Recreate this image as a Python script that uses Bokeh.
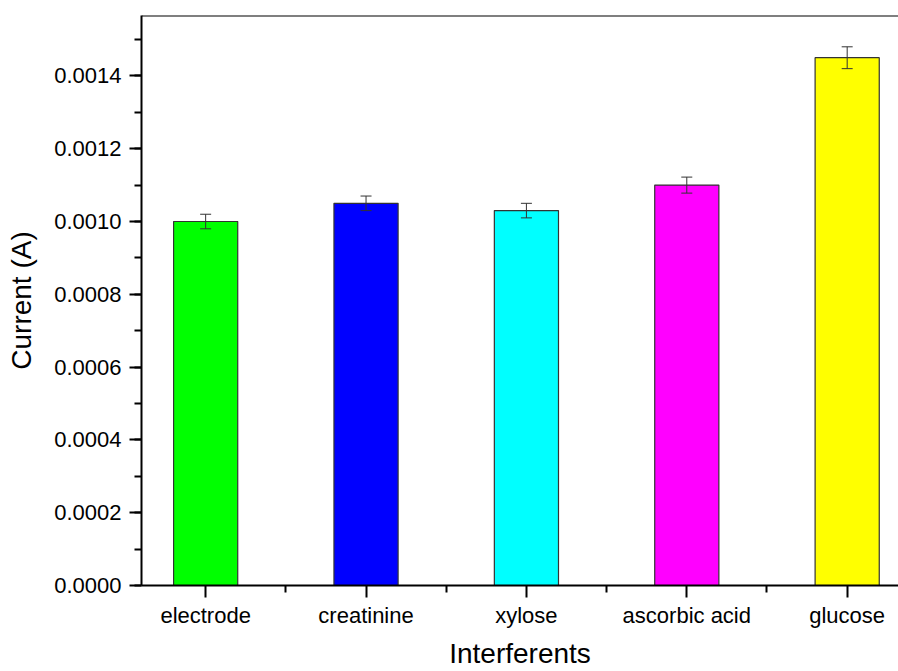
from bokeh.plotting import figure
from bokeh.models import (ColumnDataSource, FixedTicker, Range1d, Span, Whisker,
                          TeeHead, PrintfTickFormatter)
from bokeh.embed import file_html
from bokeh.resources import INLINE

# Interferent study: response current of the sensor to each species
categories = ["electrode", "creatinine", "xylose", "ascorbic acid", "glucose"]
current = [0.00100, 0.00105, 0.00103, 0.00110, 0.00145]
error = [0.00002, 0.00002, 0.00002, 0.000022, 0.00003]
colors = ["#00ff00", "#0000ff", "#00ffff", "#ff00ff", "#ffff00"]
y_ticks = [0.0, 0.0002, 0.0004, 0.0006, 0.0008, 0.0010, 0.0012, 0.0014]

positions = list(range(1, len(categories) + 1))
y_max = 0.001566

source = ColumnDataSource(dict(
    x=positions,
    top=current,
    upper=[c + e for c, e in zip(current, error)],
    lower=[c - e for c, e in zip(current, error)],
    color=colors,
))

FONT = "Liberation Sans"

p = figure(width=898, height=671, output_backend="svg", toolbar_location=None,
           x_range=Range1d(0.6, 5.32), y_range=Range1d(0, y_max),
           min_border_left=141, min_border_right=0, min_border_top=15,
           min_border_bottom=86)
p.outline_line_color = None
p.xgrid.visible = False
p.ygrid.visible = False
p.background_fill_color = "white"
p.border_fill_color = "white"

p.vbar(x="x", top="top", bottom=0, width=0.4, fill_color="color",
       line_color="#333333", line_width=1.2, source=source)

err = Whisker(base="x", upper="upper", lower="lower", source=source,
              level="overlay", line_color="#333333", line_width=1,
              upper_head=TeeHead(size=11, line_color="#333333", line_width=1),
              lower_head=TeeHead(size=11, line_color="#333333", line_width=1))
p.add_layout(err)

# top frame edge
p.add_layout(Span(location=y_max, dimension="width", line_color="black",
                  line_width=2))

# x axis
xa = p.xaxis[0]
xa.ticker = FixedTicker(ticks=positions,
                        minor_ticks=[i + 0.5 for i in positions[:-1]])
xa.major_label_overrides = {i: c for i, c in zip(positions, categories)}
xa.axis_label = "Interferents"

# y axis
ya = p.yaxis[0]
ya.ticker = FixedTicker(ticks=y_ticks,
                        minor_ticks=[i * 0.0001 for i in range(16)])
ya.formatter = PrintfTickFormatter(format="%.4f")
ya.axis_label = "Current (A)"

for ax in (xa, ya):
    ax.axis_line_color = "black"
    ax.axis_line_width = 2
    ax.major_tick_line_color = "black"
    ax.major_tick_line_width = 2
    ax.minor_tick_line_color = "black"
    ax.minor_tick_line_width = 2
    ax.major_tick_in = 0
    ax.major_tick_out = 12
    ax.minor_tick_in = 0
    ax.minor_tick_out = 7
    ax.major_label_text_font = FONT
    ax.major_label_text_font_size = "22px"
    ax.major_label_text_color = "black"
    ax.major_label_standoff = 8
    ax.axis_label_text_font = FONT
    ax.axis_label_text_font_size = "28px"
    ax.axis_label_text_font_style = "normal"
    ax.axis_label_text_color = "black"

xa.major_label_standoff = 5
xa.axis_label_standoff = 7
ya.axis_label_standoff = 14

open("out.html", "w").write(file_html(p, INLINE))
